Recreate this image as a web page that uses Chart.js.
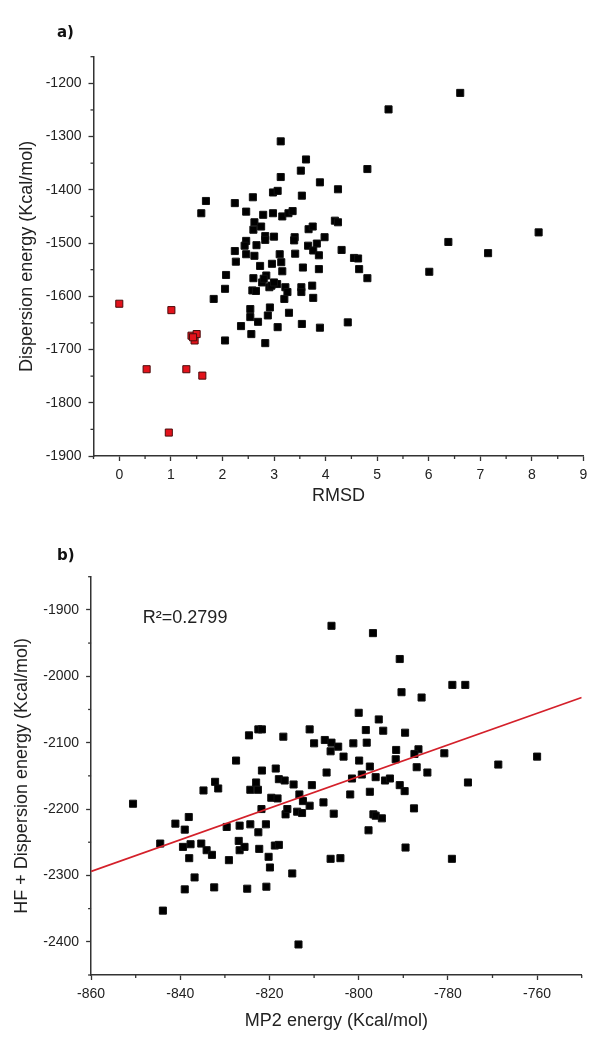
<!DOCTYPE html>
<html>
<head>
<meta charset="utf-8">
<script src="https://cdn.jsdelivr.net/npm/chart.js@4/dist/chart.umd.min.js"></script>
<style>
  body { margin: 0; background: #fff; }
  #wrapA { position: absolute; left: 0; top: 0; }
  #wrapB { position: absolute; left: 0; top: 510px; }
</style>
</head>
<body>
<div id="wrapA"><canvas id="chartA" width="613" height="510"></canvas></div>
<div id="wrapB"><canvas id="chartB" width="613" height="540"></canvas></div>
<script>
// panel a) - black = all poses, red = the low RMSD ones
const rmsdBlack = [6.61, 5.22, 3.13, 3.62, 3.52, 4.81, 3.13, 3.89, 4.24, 2.98, 3.07, 3.54, 2.59, 1.68, 1.59, 2.24,
  2.46, 2.98, 2.79, 3.16, 3.28, 3.36, 4.18, 4.24, 2.62, 2.60, 2.75, 3.67, 3.75, 3.00, 2.83, 2.83, 3.40, 3.39, 3.98,
  6.38, 8.13, 7.15, 2.46, 2.43, 2.66, 2.24, 3.66, 3.83, 4.31, 4.55, 4.63, 3.11, 3.41, 3.76, 3.87,
  2.26, 2.46, 2.62, 2.73, 2.07, 2.05, 1.83, 2.05, 2.36, 2.56, 2.54, 2.54, 2.58, 2.60, 2.69, 2.83, 2.88, 2.92,
  2.77, 2.85, 2.91, 2.96, 3.06, 3.14, 3.16, 3.07, 3.29, 3.22, 3.20, 3.26, 3.56, 3.53, 3.53, 3.54, 3.74, 3.76,
  3.87, 3.89, 4.43, 4.65, 4.81, 6.01, 2.80, 2.95, 3.00, 2.65]
const dispBlack = [-1218, -1249, -1309, -1343, -1364, -1361, -1376, -1386, -1399, -1405, -1402, -1411, -1414, -1421, -1444, -1425,
  -1441, -1444, -1447, -1450, -1444, -1440, -1458, -1461, -1461, -1475, -1469, -1474, -1469, -1488, -1487, -1494, -1489, -1495, -1489,
  -1498, -1480, -1519, -1496, -1505, -1504, -1515, -1505, -1501, -1513, -1528, -1529, -1521, -1520, -1514, -1523,
  -1535, -1521, -1524, -1543, -1560, -1586, -1605, -1683, -1656, -1671, -1624, -1639, -1589, -1566, -1648, -1688, -1636, -1621,
  -1574, -1561, -1583, -1539, -1577, -1536, -1553, -1658, -1631, -1583, -1605, -1592, -1546, -1583, -1592, -1652, -1580, -1603,
  -1549, -1659, -1649, -1549, -1566, -1554, -1567, -1580, -1574, -1590]
const rmsdRed = [0, 1.01, 1.40, 1.46, 1.50, 1.43, 0.53, 1.30, 1.61, 0.96]
const dispRed = [-1614, -1626, -1674, -1683, -1671, -1677, -1737, -1737, -1749, -1856]

// panel b)
const mp2Energy = [-806.1, -796.8, -790.8, -779.0, -776.1, -790.4, -785.9, -800.0, -795.5, -798.4, -794.5, -789.6, -811.0,
  -824.6, -822.5, -821.7, -816.9, -807.6, -806.1, -810.0, -804.6, -801.2, -798.2, -806.3, -803.4, -791.6, -786.6, -787.5,
  -780.8, -791.7, -799.9, -797.5, -787.0, -784.6, -768.7, -760.0, -827.5, -821.7, -818.6, -807.2, -801.5, -799.3,
  -832.2, -834.8, -831.5, -824.3, -823.0, -822.6, -821.8, -819.6, -818.2, -817.9, -816.6, -816.4, -816.0, -814.6, -813.3,
  -813.8, -812.7, -812.5, -810.5, -811.0, -807.9, -805.6, -801.9, -796.2, -797.5, -796.7, -796.2, -794.8, -797.8, -794.1,
  -793.0, -790.8, -789.7, -787.6, -789.5, -779.1, -775.5, -806.3, -804.1, -814.9, -813.5, -850.6, -841.1, -844.5, -839.0,
  -838.1, -839.4, -837.7, -838.0, -836.8, -839.0, -843.9, -835.3, -834.1, -832.9, -832.4, -829.6, -829.1, -826.7, -826.9,
  -826.7, -825.6, -825.0, -824.3, -822.5, -822.3, -820.8, -820.2, -819.9, -820.7, -818.8, -817.9]
const hfDispEnergy = [-1924, -1935, -1974, -2013, -2013, -2024, -2032, -2055, -2065, -2081, -2082, -2085, -2080,
  -2089, -2080, -2080, -2091, -2096, -2100, -2101, -2106, -2101, -2100, -2113, -2121, -2111, -2110, -2117,
  -2116, -2125, -2127, -2136, -2137, -2145, -2133, -2121, -2127, -2142, -2139, -2145, -2154, -2148,
  -2159, -2172, -2169, -2171, -2160, -2171, -2200, -2183, -2184, -2155, -2157, -2208, -2200, -2163, -2178,
  -2204, -2206, -2188, -2164, -2195, -2190, -2207, -2178, -2152, -2174, -2208, -2210, -2214, -2232, -2157,
  -2154, -2164, -2173, -2199, -2258, -2275, -2160, -2275, -2274, -2297, -2404, -2192, -2222, -2252, -2231,
  -2212, -2257, -2253, -2274, -2303, -2321, -2353, -2252, -2262, -2269, -2318, -2227, -2277, -2225, -2248,
  -2262, -2257, -2320, -2223, -2235, -2260, -2223, -2272, -2288, -2317, -2255, -2254]
const fitX = [-860, -750]
const fitY = [-2294, -2032]
const rSquared = 'R\u00b2=0.2799'

const toPoints = (xs, ys) => xs.map((x, i) => ({ x: x, y: ys[i] }))

const fontFam = '"Liberation Sans", Arial, sans-serif'
const axisCol = '#333'

function isMajor(v, every) {
  const r = Math.round(v / every)
  return Math.abs(v - r * every) < 1e-6
}

function makeScale(min, max, step, labelEvery, title, titlePad, fitSize, horizontal) {
  return {
    type: 'linear',
    min: min,
    max: max,
    labelEvery: labelEvery,
    border: { display: true, color: axisCol, width: 1.5 },
    grid: {
      drawOnChartArea: false,
      drawTicks: true,
      tickLength: 5,
      tickWidth: 1.3,
      // minor ticks are drawn shorter by the minorTicks plugin
      tickColor: c => (c.tick && isMajor(c.tick.value, labelEvery)) ? axisCol : 'rgba(0,0,0,0)'
    },
    ticks: {
      stepSize: step,
      autoSkip: false,
      maxRotation: 0,
      padding: horizontal ? 6 : 7,
      color: '#222',
      font: { family: fontFam, size: 14 },
      callback: function (v) {
        return isMajor(v, labelEvery) ? String(Math.round(v * 100) / 100) : ''
      }
    },
    title: { display: true, text: title, color: '#222', font: { family: fontFam, size: 18 }, padding: titlePad },
    afterFit: function (s) {
      if (horizontal) s.height = fitSize
      else s.width = fitSize
    }
  }
}

const minorTicks = {
  id: 'minorTicks',
  afterDraw(chart) {
    const ctx = chart.ctx
    ctx.save()
    ctx.strokeStyle = axisCol
    ctx.lineWidth = 1.3
    Object.values(chart.scales).forEach(s => {
      const every = s.options.labelEvery
      s.ticks.forEach(t => {
        if (isMajor(t.value, every)) return
        const p = s.getPixelForValue(t.value)
        ctx.beginPath()
        if (s.isHorizontal()) {
          ctx.moveTo(p, s.top)
          ctx.lineTo(p, s.top + 3)
        } else {
          ctx.moveTo(s.right, p)
          ctx.lineTo(s.right - 3, p)
        }
        ctx.stroke()
      })
    })
    ctx.restore()
  }
}

const extraText = {
  id: 'extraText',
  afterDraw(chart, args, opts) {
    const ctx = chart.ctx
    ctx.save()
    ctx.fillStyle = '#111'
    ctx.textBaseline = 'middle'
    ctx.font = 'bold 15px "DejaVu Sans", sans-serif'
    ctx.fillText(opts.panel, 57, opts.panelY)
    if (opts.note) {
      ctx.font = '18px ' + fontFam
      ctx.fillStyle = '#222'
      const x = chart.scales.x.getPixelForValue(opts.note.x)
      const y = chart.scales.y.getPixelForValue(opts.note.y)
      ctx.fillText(opts.note.text, x, y)
    }
    ctx.restore()
  }
}

document.addEventListener('DOMContentLoaded', function () {
  chartA()
  chartB()
})

function chartA() {
  const ctx = document.getElementById('chartA')
  new Chart(ctx, {
    type: 'scatter',
    data: {
      datasets: [{
        data: toPoints(rmsdRed, dispRed),
        pointStyle: 'rect',
        pointRadius: 5,
        backgroundColor: '#e3121b',
        borderColor: '#4a0c0c',
        borderWidth: 1
      }, {
        data: toPoints(rmsdBlack, dispBlack),
        pointStyle: 'rect',
        pointRadius: 5,
        backgroundColor: '#000',
        borderColor: '#111',
        borderWidth: 1
      }]
    },
    options: {
      responsive: false,
      animation: false,
      layout: { padding: { left: 0, right: 29.5, top: 56.7, bottom: 0 } },
      plugins: {
        legend: { display: false },
        tooltip: { enabled: false },
        extraText: { panel: 'a)', panelY: 33 }
      },
      scales: {
        x: makeScale(-0.5, 9, 0.5, 1, 'RMSD', { top: 0, bottom: 3.6 }, 54, true),
        y: makeScale(-1900, -1150, 50, 100, 'Dispersion energy (Kcal/mol)', { top: 16.6, bottom: 0 }, 93.5, false)
      }
    },
    plugins: [extraText, minorTicks]
  })
}

function chartB() {
  const ctx = document.getElementById('chartB')
  new Chart(ctx, {
    type: 'scatter',
    data: {
      datasets: [{
        type: 'line',
        data: toPoints(fitX, fitY),
        borderColor: '#d4202a',
        borderWidth: 1.8,
        pointRadius: 0,
        fill: false
      }, {
        data: toPoints(mp2Energy, hfDispEnergy),
        pointStyle: 'rect',
        pointRadius: 5,
        backgroundColor: '#000',
        borderColor: '#111',
        borderWidth: 1
      }]
    },
    options: {
      responsive: false,
      animation: false,
      layout: { padding: { left: 0, right: 31.3, top: 66.7, bottom: 0 } },
      plugins: {
        legend: { display: false },
        tooltip: { enabled: false },
        extraText: { panel: 'b)', panelY: 46, note: { text: rSquared, x: -848.4, y: -1913 } }
      },
      scales: {
        x: makeScale(-860, -750, 10, 20, 'MP2 energy (Kcal/mol)', { top: 0, bottom: 18.6 }, 75, true),
        y: makeScale(-2450, -1850, 50, 100, 'HF + Dispersion energy (Kcal/mol)', { top: 11.6, bottom: 0 }, 91.1, false)
      }
    },
    plugins: [extraText, minorTicks]
  })
}
</script>
</body>
</html>
